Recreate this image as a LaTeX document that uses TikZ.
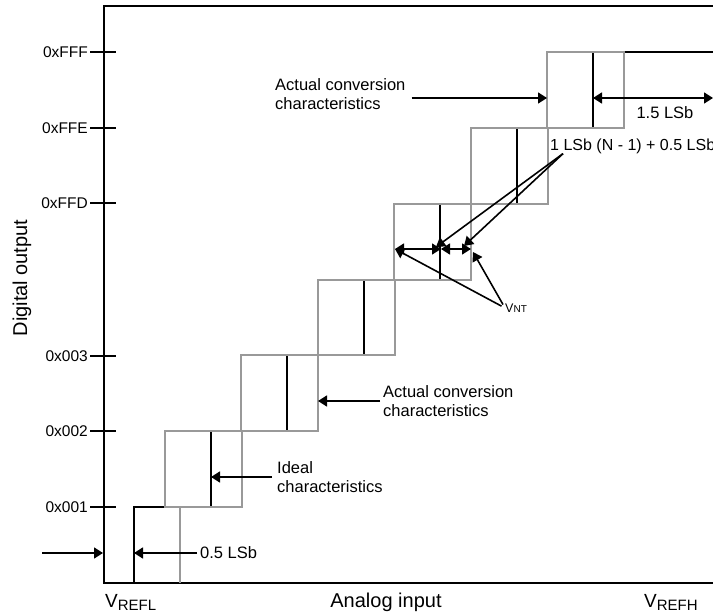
\documentclass[tikz,border=0pt]{standalone}
\usepackage{fontspec}
\setmainfont{Liberation Sans}
\usetikzlibrary{arrows.meta, positioning, calc}
\tikzset{
  frame_line/.style={line width=2pt, black},
  tick_mark/.style={line width=2pt, black},
  tick_label/.style={anchor=east, inner sep=0pt, font=\fontsize{15.5}{17}\selectfont},
  ideal_step/.style={line width=2pt, black},
  actual_step/.style={line width=2pt, black!40},
  note_text/.style={anchor=west, align=left, inner sep=0pt, font=\fontsize{16.5}{18.5}\selectfont},
  axis_title/.style={inner sep=0pt, font=\fontsize{20}{22}\selectfont},
  pointer/.style={-{Triangle[length=9pt,width=11pt]}, line width=1.6pt, black},
  dim_arrow/.style={{Triangle[length=9pt,width=11pt]}-{Triangle[length=9pt,width=11pt]}, line width=1.6pt, black}
}

\begin{document}
\begin{tikzpicture}[x=1pt, y=-1pt]
    \useasboundingbox (0,0) rectangle (713,615);

    % 1. Frame and ticks
    \draw[frame_line] (720,6) -- (104,6) -- (104,583) -- (720,583);
    \foreach \ty/\tl/\tn in {52/0xFFF/fff, 128/0xFFE/ffe, 203/0xFFD/ffd,
                             356/0x003/n3, 431/0x002/n2, 507/0x001/n1} {
        \draw[tick_mark] (90,\ty) -- (116,\ty);
        \node[tick_label] (tick_\tn) at (88,\ty) {\tl};
    }

    % 2. Axis titles
    \node[axis_title, rotate=90] (y_title) at (22,278) {Digital output};
    \node[axis_title, anchor=base] (x_title) at (386,607) {Analog input};
    \node[inner sep=0pt, anchor=base west] (v_refl) at (105,607)
        {{\fontsize{19}{20}\selectfont V}\raisebox{-3pt}{\fontsize{15}{16}\selectfont REFL}};
    \node[inner sep=0pt, anchor=base west] (v_refh) at (644,607)
        {{\fontsize{19}{20}\selectfont V}\raisebox{-3pt}{\fontsize{15}{16}\selectfont REFH}};

    % 3. Ideal characteristics (black staircase)
    \draw[ideal_step] (134,583) |- (210.5,507.1) |- (287,431.3) |- (363.5,355.4)
        |- (440,279.6) |- (516.5,203.7) |- (593,127.8) |- (720,52);

    % 4. Actual conversion characteristics (gray boxes)
    \draw[actual_step] (180,507.1) -- (180,583);
    \foreach \k in {1,...,6} {
        \draw[actual_step] ({134+76.5*\k-46},{583-75.86*\k})
            rectangle ({134+76.5*\k+31},{583-75.86*(\k+1)});
    }

    % 5. Upper notes
    \node[note_text] (note_actual_top) at (275,94) {Actual conversion\\characteristics};
    \coordinate (top_gray_edge) at (547,98);
    \draw[pointer, shorten <=6pt] (note_actual_top.east |- top_gray_edge) -- (top_gray_edge);

    \coordinate (top_ideal_edge) at (593,98);
    \coordinate (right_edge) at (713,98);
    \draw[dim_arrow] (top_ideal_edge) -- (right_edge);
    \node[note_text, anchor=center] (note_15) at (665,113) {1.5 LSb};

    \node[note_text, font=\fontsize{16}{18}\selectfont] (note_nlsb) at (550,146) {1 LSb (N - 1) + 0.5 LSb};
    \coordinate (nlsb_root) at ([xshift=13pt]note_nlsb.south west);

    % 6. Non-linearity total error
    \coordinate (vnt_left) at (395,249);
    \coordinate (vnt_mid) at (441,249);
    \coordinate (vnt_right) at (471,249);
    \coordinate (vnt_mid_tip) at (436,247);
    \coordinate (vnt_right_tip) at (464,246);
    \coordinate (vnt_box_tip) at (473,252);
    \draw[dim_arrow] (vnt_left) -- (vnt_mid);
    \draw[dim_arrow] (vnt_mid) -- (vnt_right);
    \draw[pointer] (nlsb_root) -- (vnt_mid_tip);
    \draw[pointer] (nlsb_root) -- (vnt_right_tip);

    \node[inner sep=0pt, anchor=west] (note_vnt) at (505,308)
        {{\fontsize{12.5}{13}\selectfont V}{\fontsize{10}{11}\selectfont NT}};
    \draw[pointer, shorten <=4pt] (note_vnt.west) -- (vnt_left);
    \draw[pointer, shorten <=4pt] (note_vnt.west) -- (vnt_box_tip);

    % 7. Lower notes
    \node[note_text] (note_actual_low) at (383,401) {Actual conversion\\characteristics};
    \coordinate (low_gray_edge) at (318,401);
    \draw[pointer, shorten <=3pt] (note_actual_low.west) -- (low_gray_edge);

    \node[note_text] (note_ideal) at (277,477) {Ideal\\characteristics};
    \coordinate (ideal_edge) at (211,477);
    \draw[pointer, shorten <=5pt] (note_ideal.west) -- (ideal_edge);

    \node[note_text] (note_05) at (200,553) {0.5 LSb};
    \coordinate (first_step) at (134,553);
    \draw[pointer, shorten <=3pt] (note_05.west) -- (first_step);

    \coordinate (left_start) at (42,553);
    \coordinate (axis_hit) at (103,553);
    \draw[pointer] (left_start) -- (axis_hit);
\end{tikzpicture}
\end{document}
